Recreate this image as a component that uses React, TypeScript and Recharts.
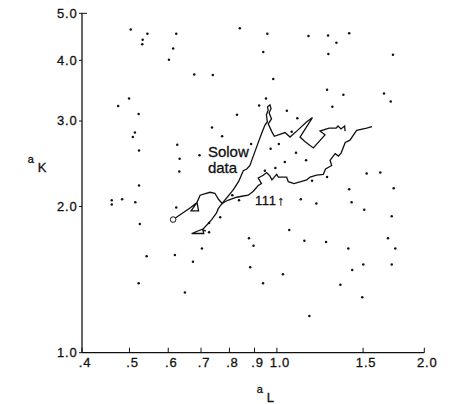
import React from 'react';
import { ComposedChart, XAxis, YAxis, Scatter, Line, ReferenceDot, Label } from 'recharts';

const xTicks = [0.4, 0.5, 0.6, 0.7, 0.8, 0.9, 1.0, 1.5, 2.0];
const xTickLabels = ['.4', '.5', '.6', '.7', '.8', '.9', '1.0', '1.5', '2.0'];
const yTicks = [1, 2, 3, 4, 5];
const yTickLabels = ['1.0', '2.0', '3.0', '4.0', '5.0'];

// scattered points (a_L, a_K)
const dotAL = [
  0.503, 0.532, 0.531, 0.544, 0.623, 0.614, 0.602, 0.840, 0.678, 0.740,
  0.474, 0.499, 0.522, 0.920, 0.829, 0.513, 0.508, 0.523, 0.626, 0.633,
  0.632, 0.737, 0.773, 0.695, 0.886, 0.956, 1.160, 1.272, 1.323, 1.405,
  0.938, 1.274, 1.726, 0.983, 1.266, 1.367, 1.655, 1.708, 0.950, 1.298,
  1.048, 1.101, 1.072, 1.009, 0.971, 1.094, 1.038, 1.147, 0.993, 1.525,
  1.626, 1.266, 0.523, 0.460, 0.460, 0.483, 0.514, 0.525, 0.623, 0.542,
  0.619, 0.674, 0.703, 0.727, 0.727, 0.766, 0.811, 0.837, 0.877, 0.896,
  0.882, 0.522, 0.649, 1.180, 1.405, 1.732, 1.119, 1.204, 1.421, 1.508,
  1.716, 1.060, 1.138, 1.260, 1.399, 1.686, 1.745, 1.029, 0.937, 1.501,
  1.716, 1.425, 1.348, 1.494, 1.165, 0.945,
];
const dotAK = [
  4.63, 4.41, 4.32, 4.54, 4.54, 4.23, 4.01, 4.66, 3.74, 3.73,
  3.22, 3.34, 3.10, 3.23, 3.09, 2.84, 2.78, 2.61, 2.68, 2.51,
  2.36, 2.91, 2.79, 2.55, 2.69, 4.54, 4.49, 4.50, 4.35, 4.55,
  4.16, 4.12, 4.11, 3.66, 3.48, 3.40, 3.42, 3.29, 3.34, 3.21,
  3.15, 3.04, 2.85, 2.69, 2.63, 2.58, 2.47, 2.49, 2.40, 2.34,
  2.35, 2.30, 2.21, 2.06, 2.02, 2.07, 2.04, 1.84, 1.99, 1.58,
  1.59, 1.54, 1.64, 1.85, 1.77, 1.90, 2.11, 2.06, 1.72, 1.66,
  1.50, 1.39, 1.33, 2.26, 2.17, 2.18, 2.07, 2.03, 2.04, 1.97,
  1.91, 1.79, 1.70, 1.69, 1.64, 1.72, 1.64, 1.45, 1.39, 1.52,
  1.52, 1.48, 1.38, 1.30, 1.19, 2.37,
];

// Solow data path
const solowAL = [
  0.614, 0.667, 0.687, 0.692, 0.668, 0.687, 0.697, 0.730, 0.747, 0.760,
  0.773, 0.813, 0.835, 0.854, 0.868, 0.881, 0.910, 0.931, 0.945, 0.956,
  0.952, 0.960, 0.957, 0.968, 0.973, 0.964, 0.975, 0.960, 0.977, 0.988,
  1.039, 1.064, 1.106, 1.151, 1.182, 1.115, 1.142, 1.187, 1.254, 1.225,
  1.278, 1.321, 1.333, 1.352, 1.375, 1.378,
];
const solowAK = [
  1.88, 1.99, 2.04, 1.96, 1.96, 2.04, 2.11, 2.14, 2.13, 2.07,
  2.03, 2.16, 2.25, 2.37, 2.39, 2.43, 2.66, 2.83, 2.94, 2.99,
  3.09, 3.16, 3.21, 3.24, 3.18, 3.12, 3.03, 2.96, 2.85, 2.79,
  2.84, 2.78, 2.88, 2.99, 3.05, 2.78, 2.72, 2.64, 2.81, 2.86,
  2.90, 2.90, 2.93, 2.89, 2.93, 2.86,
];

// run "1111" path
const runAL = [
  0.716, 0.706, 0.709, 0.670, 0.708, 0.736, 0.753, 0.759, 0.773, 0.794,
  0.828, 0.848, 0.874, 0.895, 0.916, 0.930, 0.916, 0.938, 0.953, 0.968,
  0.977, 0.999, 1.007, 1.047, 1.055, 1.084, 1.151, 1.169, 1.205, 1.244,
  1.257, 1.294, 1.284, 1.315, 1.336, 1.353, 1.379, 1.410, 1.455, 1.525,
  1.564,
];
const runAK = [
  1.78, 1.79, 1.76, 1.76, 1.80, 1.88, 1.94, 1.98, 2.03, 2.06,
  2.09, 2.10, 2.11, 2.15, 2.21, 2.23, 2.29, 2.32, 2.35, 2.31,
  2.27, 2.33, 2.30, 2.30, 2.25, 2.23, 2.27, 2.30, 2.32, 2.33,
  2.39, 2.43, 2.49, 2.57, 2.54, 2.58, 2.71, 2.74, 2.87, 2.90,
  2.92,
];

const solowLabelAt = { x: 0.723, y: 2.53 };
const runLabelAt = { x: 0.902, y: 2.015 };

const dots = dotAL.map((x, i) => ({ x, y: dotAK[i] }));
const solow = solowAL.map((x, i) => ({ x, y: solowAK[i] }));
const run = runAL.map((x, i) => ({ x, y: runAK[i] }));
const start = [{ x: solowAL[0], y: solowAK[0] }];

const FONT = '"Liberation Sans", Arial, Helvetica, sans-serif';
const INK = '#111';
const txt = { fontFamily: FONT, fill: INK, stroke: INK, strokeWidth: 0.3 };

const XTick = (props: any) => {
  const { x, y, payload } = props;
  const idx = xTicks.indexOf(payload.value);
  return (
    <g>
      <line x1={x} x2={x} y1={y} y2={y - 5} stroke={INK} strokeWidth={1} />
      <text x={x + 3} y={y + 14.3} textAnchor="middle" style={{ ...txt, fontSize: 13, letterSpacing: 0.8 }}>
        {xTickLabels[idx]}
      </text>
    </g>
  );
};

const YTick = (props: any) => {
  const { x, y, payload } = props;
  const idx = yTicks.indexOf(payload.value);
  return (
    <g>
      <line x1={x - 3} x2={x} y1={y} y2={y} stroke={INK} strokeWidth={1} />
      {payload.value === 5 ? <line x1={x} x2={x + 5} y1={y} y2={y} stroke={INK} strokeWidth={1} /> : null}
      <text x={x - 4.5} y={y + 4.3} textAnchor="end" style={{ ...txt, fontSize: 13, letterSpacing: 0.8 }}>
        {yTickLabels[idx]}
      </text>
    </g>
  );
};

export default function App() {
  return (
    <div style={{ marginLeft: -8, marginTop: -8, width: 454, height: 404 }}>
      <ComposedChart
        width={454}
        height={404}
        margin={{ top: 13.3, right: 29.7, bottom: 0, left: 0 }}
      >
        <XAxis
          type="number"
          dataKey="x"
          scale="log"
          domain={[0.4, 2]}
          ticks={xTicks}
          allowDataOverflow
          height={51.3}
          tickSize={0}
          tickMargin={0}
          tickLine={false}
          tick={<XTick />}
          axisLine={{ stroke: INK, strokeWidth: 1.3 }}
          interval={0}
        >
          <Label
            content={(p: any) => {
              const vb = p.viewBox || { x: 82, y: 352.7 };
              return (
                <g>
                  <text x={vb.x + 174.7} y={vb.y + 40.6} style={{ ...txt, fontSize: 11 }}>a</text>
                  <text x={vb.x + 184.7} y={vb.y + 49} style={{ ...txt, fontSize: 13 }}>L</text>
                </g>
              );
            }}
          />
        </XAxis>
        <YAxis
          type="number"
          dataKey="y"
          scale="log"
          domain={[1, 5]}
          ticks={yTicks}
          allowDataOverflow
          width={82}
          tickSize={0}
          tickMargin={0}
          tickLine={false}
          tick={<YTick />}
          axisLine={{ stroke: INK, strokeWidth: 1.3 }}
          interval={0}
        >
          <Label
            content={(p: any) => {
              const vb = p.viewBox || { x: 0, y: 13.3 };
              return (
                <g>
                  <text x={vb.x + 27.7} y={vb.y + 150} style={{ ...txt, fontSize: 11 }}>a</text>
                  <text x={vb.x + 37.7} y={vb.y + 158.4} style={{ ...txt, fontSize: 13 }}>K</text>
                </g>
              );
            }}
          />
        </YAxis>
        <Scatter
          data={dots}
          isAnimationActive={false}
          shape={(p: any) => <circle cx={p.cx} cy={p.cy} r={1.25} fill={INK} />}
        />
        <Line
          data={solow}
          dataKey="y"
          type="linear"
          stroke={INK}
          strokeWidth={1.3}
          dot={false}
          activeDot={false}
          isAnimationActive={false}
        />
        <Line
          data={run}
          dataKey="y"
          type="linear"
          stroke={INK}
          strokeWidth={1.3}
          dot={false}
          activeDot={false}
          isAnimationActive={false}
        />
        <Scatter
          data={start}
          isAnimationActive={false}
          shape={(p: any) => <circle cx={p.cx} cy={p.cy} r={2.8} fill="#fff" stroke={INK} strokeWidth={1} />}
        />
        <ReferenceDot
          x={solowLabelAt.x}
          y={solowLabelAt.y}
          r={0}
          isFront
          shape={(p: any) => (
            <g>
              <text x={p.cx} y={p.cy} style={{ ...txt, fontSize: 15 }}>Solow</text>
              <text x={p.cx} y={p.cy + 16} style={{ ...txt, fontSize: 15 }}>data</text>
            </g>
          )}
        />
        <ReferenceDot
          x={runLabelAt.x}
          y={runLabelAt.y}
          r={0}
          isFront
          shape={(p: any) => (
            <g>
              <text x={p.cx} y={p.cy} fill="#111" fontFamily={FONT} fontSize={13} letterSpacing={0.6} style={{ ...txt, fontSize: 13 }}>111</text>
              <text x={p.cx + 22.5} y={p.cy} fill="#111" fontFamily={FONT} fontSize={13} style={{ ...txt, fontSize: 13 }}>↑</text>
            </g>
          )}
        />
      </ComposedChart>
    </div>
  );
}
